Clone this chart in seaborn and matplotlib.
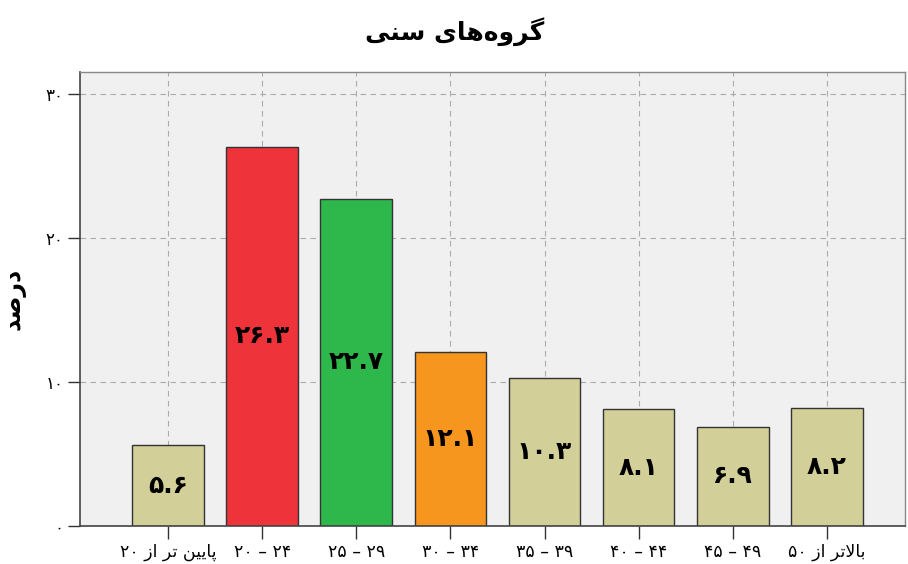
import numpy as np
import pandas as pd
import matplotlib
matplotlib.use('Agg')
import matplotlib.pyplot as plt
import seaborn as sns

# data
age_groups = ['پایین تر از ۲۰', '۲۰ – ۲۴', '۲۵ – ۲۹', '۳۰ – ۳۴',
              '۳۵ – ۳۹', '۴۰ – ۴۴', '۴۵ – ۴۹', 'بالاتر از ۵۰']
percent = [5.6, 26.3, 22.7, 12.1, 10.3, 8.1, 6.9, 8.2]
bar_colors = ['#d3cf98', '#ee333a', '#2eb84c', '#f7961e',
              '#d3cf98', '#d3cf98', '#d3cf98', '#d3cf98']
y_ticks = [0, 10, 20, 30]
title = 'گروه\u200cهای سنی'
y_title = 'درصد'

# matplotlib has no arabic shaping, so do it by hand with presentation forms
FORMS = {
    'ا': ('\uFE8D', '\uFE8E', None, None),
    'ب': ('\uFE8F', '\uFE90', '\uFE91', '\uFE92'),
    'پ': ('\uFB56', '\uFB57', '\uFB58', '\uFB59'),
    'ت': ('\uFE95', '\uFE96', '\uFE97', '\uFE98'),
    'د': ('\uFEA9', '\uFEAA', None, None),
    'ر': ('\uFEAD', '\uFEAE', None, None),
    'ز': ('\uFEAF', '\uFEB0', None, None),
    'س': ('\uFEB1', '\uFEB2', '\uFEB3', '\uFEB4'),
    'ص': ('\uFEB9', '\uFEBA', '\uFEBB', '\uFEBC'),
    'ل': ('\uFEDD', '\uFEDE', '\uFEDF', '\uFEE0'),
    'ن': ('\uFEE5', '\uFEE6', '\uFEE7', '\uFEE8'),
    'ه': ('\uFEE9', '\uFEEA', '\uFEEB', '\uFEEC'),
    'و': ('\uFEED', '\uFEEE', None, None),
    'ی': ('\uFBFC', '\uFBFD', '\uFBFE', '\uFBFF'),
    'گ': ('\uFB92', '\uFB93', '\uFB94', '\uFB95'),
}


def shape_word(w):
    out = []
    i = 0
    n = len(w)
    while i < n:
        c = w[i]
        if c == '\u200c':
            i += 1
            continue
        if c not in FORMS:
            out.append(c)
            i += 1
            continue
        prev = w[i - 1] if i > 0 else None
        joins_prev = prev in FORMS and FORMS[prev][2] is not None
        if c == 'ل' and i + 1 < n and w[i + 1] == 'ا':
            out.append('\uFEFC' if joins_prev else '\uFEFB')
            i += 2
            continue
        nxt = w[i + 1] if i + 1 < n else None
        iso, fin, ini, med = FORMS[c]
        joins_next = ini is not None and nxt in FORMS
        if joins_prev and joins_next:
            out.append(med)
        elif joins_prev:
            out.append(fin)
        elif joins_next:
            out.append(ini)
        else:
            out.append(iso)
        i += 1
    return ''.join(out)


def fa(text):
    words = text.split(' ')
    if not any(ch in FORMS for ch in text):
        return text
    words = [shape_word(w)[::-1] if any(ch in FORMS for ch in w) else w for w in words]
    return ' '.join(reversed(words))


def fa_num(v):
    return str(v).translate(str.maketrans('0123456789', '۰۱۲۳۴۵۶۷۸۹'))


plt.rcParams['font.family'] = ['DejaVu Sans']

df = pd.DataFrame({'group': [fa(g) for g in age_groups], 'percent': percent})

fig = plt.figure(figsize=(9.08, 5.64), dpi=100)
ax = fig.add_axes([80 / 908, 38 / 564, 825 / 908, 454 / 564])
ax.set_facecolor('#f0f0f0')

sns.barplot(data=df, x='group', y='percent', hue='group', palette=bar_colors,
            legend=False, width=0.76, edgecolor='#333333', linewidth=1.0,
            saturation=1, ax=ax)

for cont, v in zip(ax.containers, percent):
    ax.bar_label(cont, labels=[fa_num(v)], label_type='center',
                 fontsize=18, fontweight='bold', color='black')

ax.set_xlim(-0.935, 7.83)
ax.set_ylim(0, 31.5)
ax.set_yticks(y_ticks)
ax.set_yticklabels([fa_num(t) for t in y_ticks])
ax.tick_params(axis='both', length=9, width=1.0, color='#333333', labelsize=12.5, pad=3)
ax.tick_params(axis='y', labelsize=12)

ax.grid(True, color='#ababab', linestyle=(0, (5, 4)), linewidth=0.8)
ax.set_axisbelow(True)

for side in ['left', 'bottom']:
    ax.spines[side].set_color('#444444')
    ax.spines[side].set_linewidth(1.2)
for side in ['top', 'right']:
    ax.spines[side].set_color('#888888')
    ax.spines[side].set_linewidth(1.0)

ax.set_xlabel('')
ax.set_ylabel(fa(y_title), fontsize=17, fontweight='bold', labelpad=14)
fig.text(455 / 908, 1 - 32 / 564, fa(title), ha='center', va='center',
         fontsize=18, fontweight='bold')

fig.savefig('out.png', dpi=100, facecolor='white')
